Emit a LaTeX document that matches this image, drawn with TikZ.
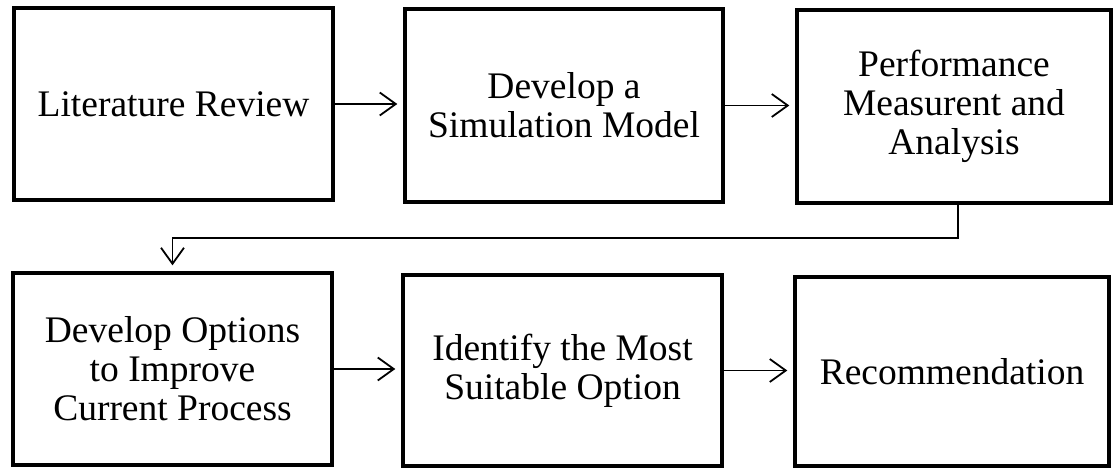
\documentclass[tikz,border=0pt]{standalone}
\usepackage{fontspec}
\setmainfont{Liberation Serif}
\usetikzlibrary{arrows.meta}
\begin{document}
\begin{tikzpicture}[x=1pt,y=-1pt,
  stepbox/.style={draw=black, line width=3.4pt, rectangle, align=center, inner sep=0pt,
    font=\fontsize{37.5}{39}\selectfont, fill=white},
  conn/.style={line width=1.8pt, -{Straight Barb[length=16pt,width=23pt,line width=1.8pt]}, shorten >=6pt}]
\useasboundingbox (0,0) rectangle (1114,468);
\node[stepbox, minimum width=319pt, minimum height=192pt] (b1) at (173.5,104) {Literature Review};
\node[stepbox, minimum width=318pt, minimum height=193pt] (b2) at (564,105.5) {Develop a\\Simulation Model};
\node[stepbox, minimum width=314pt, minimum height=193pt] (b3) at (954,106.5) {Performance\\Measurent and\\Analysis};
\node[stepbox, minimum width=319pt, minimum height=192pt] (b4) at (172.5,369) {Develop Options\\to Improve\\Current Process};
\node[stepbox, minimum width=319pt, minimum height=191pt] (b5) at (562.5,370.5) {Identify the Most\\Suitable Option};
\node[stepbox, minimum width=314pt, minimum height=189pt] (b6) at (952,371.5) {Recommendation};
\coordinate (turn) at (958,238);
\draw[conn] (b1.east) -- (b1.east -| b2.west);
\draw[conn] (b2.east) -- (b2.east -| b3.west);
\draw[conn] (b3.south -| turn) -- (turn) -- (turn -| b4.north) -- (b4.north);
\draw[conn] (b4.east) -- (b4.east -| b5.west);
\draw[conn] (b5.east) -- (b5.east -| b6.west);
\end{tikzpicture}
\end{document}
